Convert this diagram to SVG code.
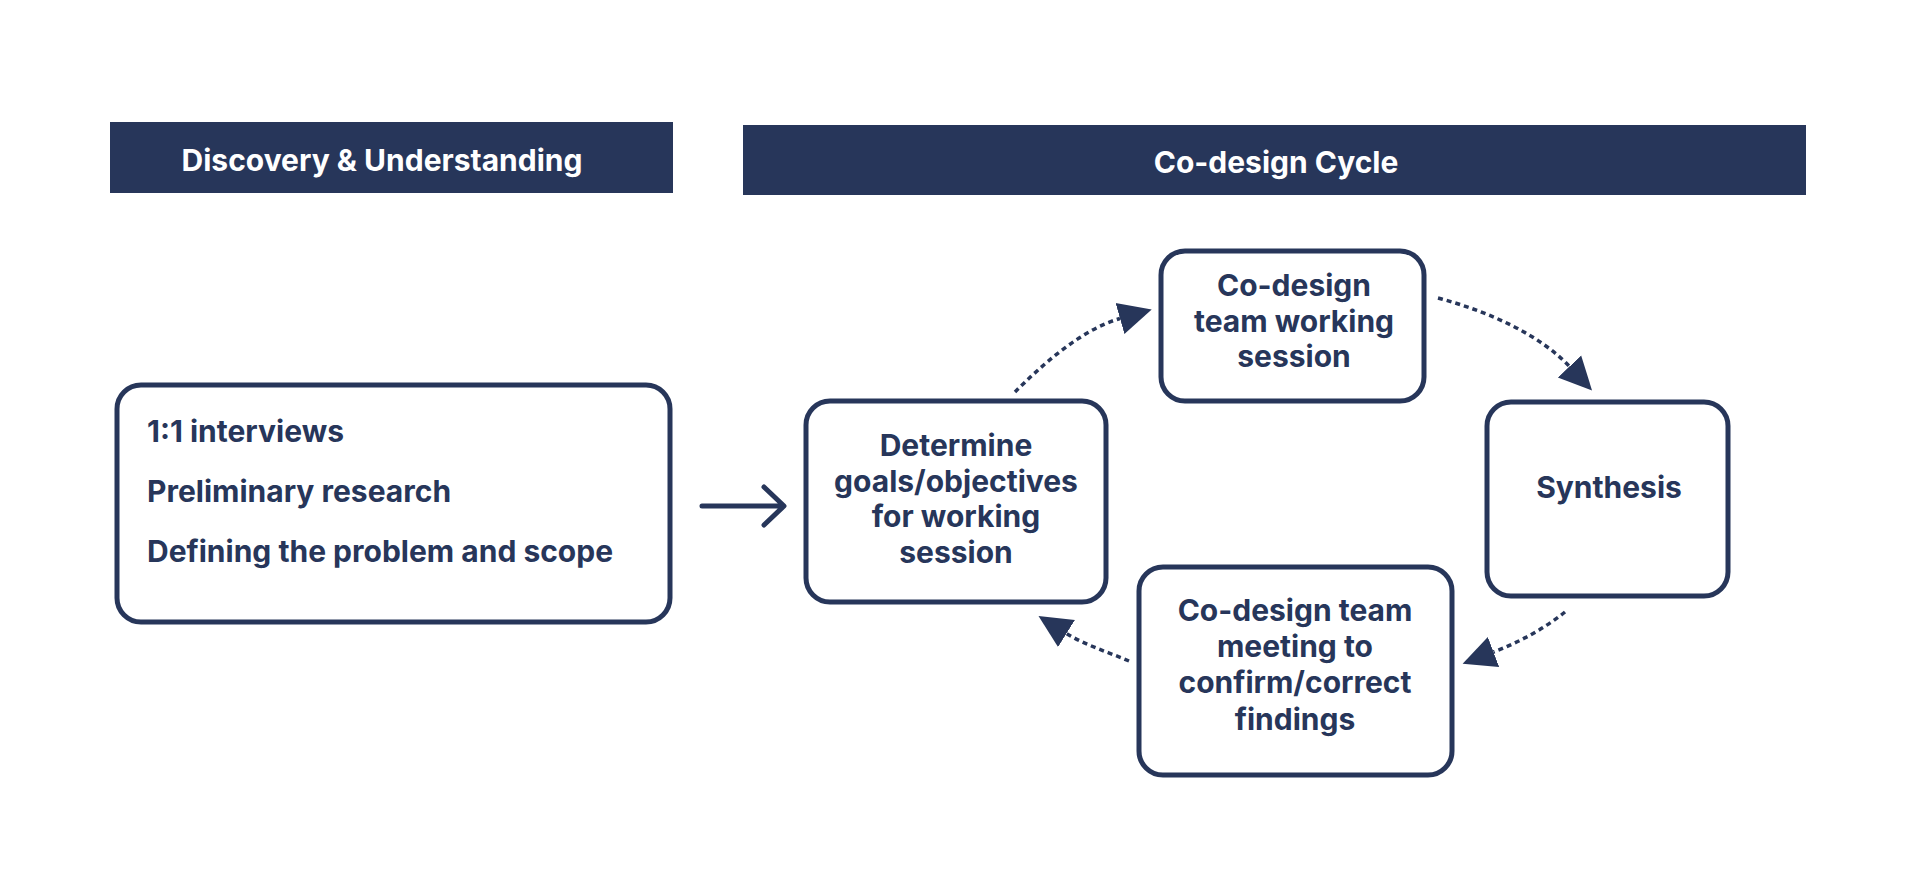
<svg xmlns="http://www.w3.org/2000/svg" width="1920" height="896" viewBox="0 0 1920 896">
  <style>
    .hdr { fill: #27365a; }
    .hdrtxt { font-family: Inter, "Liberation Sans", sans-serif; font-weight: 700; font-size: 30px; fill: #ffffff; text-anchor: middle; }
    .box { fill: #ffffff; stroke: #27365a; stroke-width: 5; }
    .txt { font-family: Inter, "Liberation Sans", sans-serif; font-weight: 700; font-size: 30px; fill: #27365a; }
    .ctr { text-anchor: middle; }
    .dot { fill: none; stroke: #27365a; stroke-width: 3.5; stroke-dasharray: 5 4; marker-end: url(#tri); }
    .solid { fill: none; stroke: #27365a; stroke-width: 5; stroke-linecap: round; stroke-linejoin: round; }
  </style>
  <defs>
    <marker id="tri" markerUnits="userSpaceOnUse" markerWidth="34" markerHeight="34" refX="0" refY="16" orient="auto" viewBox="0 0 34 32">
      <path d="M0,0 L33,16 L0,32 Z" fill="#27365a"/>
    </marker>
  </defs>
  <rect width="1920" height="896" fill="#ffffff"/>

  <g id="header-discovery">
    <rect class="hdr" x="110" y="122" width="563" height="71"/>
    <text class="hdrtxt" x="382" y="171">Discovery &amp; Understanding</text>
  </g>
  <g id="header-codesign">
    <rect class="hdr" x="743" y="125" width="1063" height="70"/>
    <text class="hdrtxt" x="1276" y="173">Co-design Cycle</text>
  </g>

  <g id="node-discovery">
    <rect class="box" x="117" y="385" width="553" height="237" rx="24"/>
    <text class="txt" x="147" y="442">1:1 interviews</text>
    <text class="txt" x="147" y="502">Preliminary research</text>
    <text class="txt" x="147" y="562">Defining the problem and scope</text>
  </g>

  <g id="node-determine">
    <rect class="box" x="806" y="401" width="300" height="201" rx="24"/>
    <text class="txt ctr" x="956" y="456">Determine</text>
    <text class="txt ctr" x="956" y="492">goals/objectives</text>
    <text class="txt ctr" x="956" y="527">for working</text>
    <text class="txt ctr" x="956" y="563">session</text>
  </g>

  <g id="node-working">
    <rect class="box" x="1161" y="251" width="263" height="150" rx="24"/>
    <text class="txt ctr" x="1294" y="296">Co-design</text>
    <text class="txt ctr" x="1294" y="332">team working</text>
    <text class="txt ctr" x="1294" y="367">session</text>
  </g>

  <g id="node-synthesis">
    <rect class="box" x="1487" y="402" width="241" height="194" rx="24"/>
    <text class="txt ctr" x="1609" y="498">Synthesis</text>
  </g>

  <g id="node-meeting">
    <rect class="box" x="1139" y="567" width="313" height="208" rx="24"/>
    <text class="txt ctr" x="1295" y="621">Co-design team</text>
    <text class="txt ctr" x="1295" y="657">meeting to</text>
    <text class="txt ctr" x="1295" y="693">confirm/correct</text>
    <text class="txt ctr" x="1295" y="730">findings</text>
  </g>

  <g id="connectors">
    <path class="solid" d="M702,506 L783,506 M764,487 L784,506 L764,525"/>
    <path class="dot" d="M1015,392 C1040,367 1080,330 1120,318.5"/>
    <path class="dot" d="M1438,298 C1490,312 1540,335 1569.5,366.5"/>
    <path class="dot" d="M1565,612 C1545,628 1520,642 1493.5,652"/>
    <path class="dot" d="M1129,661 C1108,652 1085,645 1066.5,633.5"/>
  </g>
</svg>
